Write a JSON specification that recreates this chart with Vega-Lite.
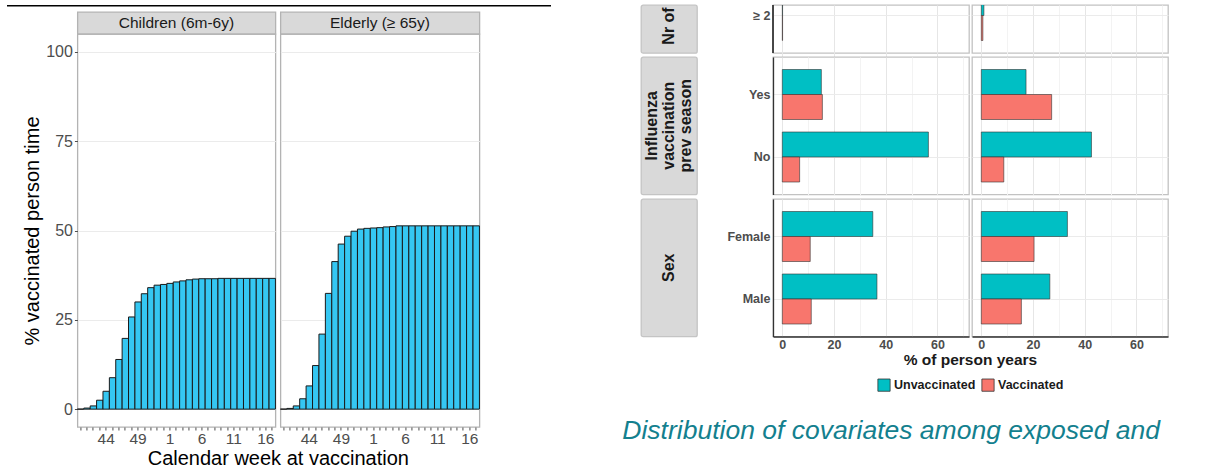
{
  "$schema": "https://vega.github.io/schema/vega-lite/v6.json",
  "background": "#ffffff",
  "padding": {"left": 7, "top": 3, "right": 5, "bottom": 0},
  "config": {
    "font": "Liberation Sans",
    "view": {"stroke": "#b3b3b3", "strokeWidth": 1.3},
    "axis": {"labelFont": "Liberation Sans", "titleFont": "Liberation Sans"},
    "title": {"font": "Liberation Sans"},
    "legend": {"labelFont": "Liberation Sans"}
  },
  "datasets": {
    "uptake": [
      {"group": "Children", "week": 40, "pct": 0},
      {"group": "Children", "week": 41, "pct": 0.3},
      {"group": "Children", "week": 42, "pct": 0.9},
      {"group": "Children", "week": 43, "pct": 2.5},
      {"group": "Children", "week": 44, "pct": 5.0},
      {"group": "Children", "week": 45, "pct": 8.8},
      {"group": "Children", "week": 46, "pct": 13.9},
      {"group": "Children", "week": 47, "pct": 19.8},
      {"group": "Children", "week": 48, "pct": 25.8},
      {"group": "Children", "week": 49, "pct": 30.0},
      {"group": "Children", "week": 50, "pct": 32.3},
      {"group": "Children", "week": 51, "pct": 34.0},
      {"group": "Children", "week": 52, "pct": 34.7},
      {"group": "Children", "week": 53, "pct": 34.9},
      {"group": "Children", "week": 1, "pct": 35.2},
      {"group": "Children", "week": 2, "pct": 35.6},
      {"group": "Children", "week": 3, "pct": 35.9},
      {"group": "Children", "week": 4, "pct": 36.2},
      {"group": "Children", "week": 5, "pct": 36.4},
      {"group": "Children", "week": 6, "pct": 36.5},
      {"group": "Children", "week": 7, "pct": 36.5},
      {"group": "Children", "week": 8, "pct": 36.5},
      {"group": "Children", "week": 9, "pct": 36.6},
      {"group": "Children", "week": 10, "pct": 36.6},
      {"group": "Children", "week": 11, "pct": 36.6},
      {"group": "Children", "week": 12, "pct": 36.6},
      {"group": "Children", "week": 13, "pct": 36.6},
      {"group": "Children", "week": 14, "pct": 36.6},
      {"group": "Children", "week": 15, "pct": 36.6},
      {"group": "Children", "week": 16, "pct": 36.6},
      {"group": "Children", "week": 17, "pct": 36.6},
      {"group": "Elderly", "week": 40, "pct": 0},
      {"group": "Elderly", "week": 41, "pct": 0.2},
      {"group": "Elderly", "week": 42, "pct": 0.9},
      {"group": "Elderly", "week": 43, "pct": 2.9},
      {"group": "Elderly", "week": 44, "pct": 6.5},
      {"group": "Elderly", "week": 45, "pct": 12.2},
      {"group": "Elderly", "week": 46, "pct": 21.0},
      {"group": "Elderly", "week": 47, "pct": 32.4},
      {"group": "Elderly", "week": 48, "pct": 41.3},
      {"group": "Elderly", "week": 49, "pct": 46.2},
      {"group": "Elderly", "week": 50, "pct": 48.4},
      {"group": "Elderly", "week": 51, "pct": 49.8},
      {"group": "Elderly", "week": 52, "pct": 50.4},
      {"group": "Elderly", "week": 53, "pct": 50.6},
      {"group": "Elderly", "week": 1, "pct": 50.7},
      {"group": "Elderly", "week": 2, "pct": 50.8},
      {"group": "Elderly", "week": 3, "pct": 51.0},
      {"group": "Elderly", "week": 4, "pct": 51.1},
      {"group": "Elderly", "week": 5, "pct": 51.3},
      {"group": "Elderly", "week": 6, "pct": 51.3},
      {"group": "Elderly", "week": 7, "pct": 51.3},
      {"group": "Elderly", "week": 8, "pct": 51.3},
      {"group": "Elderly", "week": 9, "pct": 51.3},
      {"group": "Elderly", "week": 10, "pct": 51.3},
      {"group": "Elderly", "week": 11, "pct": 51.3},
      {"group": "Elderly", "week": 12, "pct": 51.3},
      {"group": "Elderly", "week": 13, "pct": 51.3},
      {"group": "Elderly", "week": 14, "pct": 51.3},
      {"group": "Elderly", "week": 15, "pct": 51.3},
      {"group": "Elderly", "week": 16, "pct": 51.3},
      {"group": "Elderly", "week": 17, "pct": 51.3}
    ],
    "facets": [
      {"group": "Children", "label": "Children (6m-6y)"},
      {"group": "Elderly", "label": "Elderly (≥ 65y)"}
    ],
    "covariates": [
      {"key": "visits", "label": "Nr of"},
      {"key": "flu", "label": "Influenza\nvaccination\nprev season"},
      {"key": "sex", "label": "Sex"}
    ],
    "cov": [
      {"group": "Children", "key": "visits", "level": "≥ 2", "status": "Unvaccinated", "pct": 0.1},
      {"group": "Children", "key": "visits", "level": "≥ 2", "status": "Vaccinated", "pct": 0.1},
      {"group": "Children", "key": "flu", "level": "Yes", "status": "Unvaccinated", "pct": 15.1},
      {"group": "Children", "key": "flu", "level": "Yes", "status": "Vaccinated", "pct": 15.5},
      {"group": "Children", "key": "flu", "level": "No", "status": "Unvaccinated", "pct": 56.5},
      {"group": "Children", "key": "flu", "level": "No", "status": "Vaccinated", "pct": 6.7},
      {"group": "Children", "key": "sex", "level": "Female", "status": "Unvaccinated", "pct": 35.0},
      {"group": "Children", "key": "sex", "level": "Female", "status": "Vaccinated", "pct": 10.8},
      {"group": "Children", "key": "sex", "level": "Male", "status": "Unvaccinated", "pct": 36.6},
      {"group": "Children", "key": "sex", "level": "Male", "status": "Vaccinated", "pct": 11.2},
      {"group": "Elderly", "key": "visits", "level": "≥ 2", "status": "Unvaccinated", "pct": 1.0},
      {"group": "Elderly", "key": "visits", "level": "≥ 2", "status": "Vaccinated", "pct": 0.6},
      {"group": "Elderly", "key": "flu", "level": "Yes", "status": "Unvaccinated", "pct": 17.3},
      {"group": "Elderly", "key": "flu", "level": "Yes", "status": "Vaccinated", "pct": 27.2},
      {"group": "Elderly", "key": "flu", "level": "No", "status": "Unvaccinated", "pct": 42.6},
      {"group": "Elderly", "key": "flu", "level": "No", "status": "Vaccinated", "pct": 8.7},
      {"group": "Elderly", "key": "sex", "level": "Female", "status": "Unvaccinated", "pct": 33.3},
      {"group": "Elderly", "key": "sex", "level": "Female", "status": "Vaccinated", "pct": 20.4},
      {"group": "Elderly", "key": "sex", "level": "Male", "status": "Unvaccinated", "pct": 26.5},
      {"group": "Elderly", "key": "sex", "level": "Male", "status": "Vaccinated", "pct": 15.5}
    ]
  },
  "spacing": 71,
  "hconcat": [
    {
      "spacing": 4,
      "center": true,
      "vconcat": [
        {
          "width": 544,
          "height": 1.5,
          "view": {"fill": "#000000", "stroke": null},
          "data": {"values": []},
          "mark": "text"
        },
        {
          "columns": 2,
          "bounds": "flush",
          "spacing": {"row": 0, "column": 5},
          "title": {"text": "Calendar week at vaccination", "orient": "bottom", "anchor": "middle", "dx": 27, "offset": 2, "fontSize": 20, "fontWeight": "normal", "color": "#000000"},
          "concat": [
            {
              "width": 198,
              "height": 22,
              "view": {"fill": "#d9d9d9", "stroke": "#b3b3b3", "strokeWidth": 1.3},
              "data": {"name": "facets"},
              "transform": [{"filter": "datum.group === 'Children'"}],
              "mark": {"type": "text", "fontSize": 15.5, "color": "#1a1a1a", "baseline": "middle"},
              "encoding": {"text": {"field": "label"}}
            },
            {
              "width": 199,
              "height": 22,
              "view": {"fill": "#d9d9d9", "stroke": "#b3b3b3", "strokeWidth": 1.3},
              "data": {"name": "facets"},
              "transform": [{"filter": "datum.group === 'Elderly'"}],
              "mark": {"type": "text", "fontSize": 15.5, "color": "#1a1a1a", "baseline": "middle"},
              "encoding": {"text": {"field": "label"}}
            },
            {
              "width": 198,
              "height": 393,
              "data": {"name": "uptake"},
              "transform": [{"filter": "datum.group === 'Children'"}],
              "mark": {"type": "bar", "fill": "#35c7f2", "stroke": "#1a1a1a", "strokeWidth": 1},
              "encoding": {
                "x": {
                  "field": "week", "type": "ordinal",
                  "sort": [40,41,42,43,44,45,46,47,48,49,50,51,52,53,1,2,3,4,5,6,7,8,9,10,11,12,13,14,15,16,17],
                  "scale": {"paddingInner": 0, "paddingOuter": 0},
                  "axis": {"title": null, "labelAngle": 0, "labelExpr": "indexof([44, 49, 1, 6, 11, 16], datum.value) >= 0 ? datum.label : ''", "labelOverlap": false, "labelFontSize": 15.5, "labelColor": "#4d4d4d", "labelPadding": 1, "tickSize": 3, "tickColor": "#4d4d4d", "domain": false, "grid": false}
                },
                "y": {
                  "field": "pct", "type": "quantitative",
                  "scale": {"domain": [-5, 105], "nice": false, "zero": false},
                  "axis": {"values": [0, 25, 50, 75, 100], "title": "% vaccinated person time", "titleFontSize": 20, "titleFontWeight": "normal", "titleColor": "#000000", "titlePadding": 3, "labelFontSize": 16, "labelColor": "#4d4d4d", "labelPadding": 2, "tickSize": 3, "tickColor": "#4d4d4d", "domain": false, "grid": true, "gridColor": "#ebebeb"}
                },
                "y2": {"datum": 0}
              }
            },
            {
              "width": 199,
              "height": 393,
              "data": {"name": "uptake"},
              "transform": [{"filter": "datum.group === 'Elderly'"}],
              "mark": {"type": "bar", "fill": "#35c7f2", "stroke": "#1a1a1a", "strokeWidth": 1},
              "encoding": {
                "x": {
                  "field": "week", "type": "ordinal",
                  "sort": [40,41,42,43,44,45,46,47,48,49,50,51,52,53,1,2,3,4,5,6,7,8,9,10,11,12,13,14,15,16,17],
                  "scale": {"paddingInner": 0, "paddingOuter": 0},
                  "axis": {"title": null, "labelAngle": 0, "labelExpr": "indexof([44, 49, 1, 6, 11, 16], datum.value) >= 0 ? datum.label : ''", "labelOverlap": false, "labelFontSize": 15.5, "labelColor": "#4d4d4d", "labelPadding": 1, "tickSize": 3, "tickColor": "#4d4d4d", "domain": false, "grid": false}
                },
                "y": {
                  "field": "pct", "type": "quantitative",
                  "scale": {"domain": [-5, 105], "nice": false, "zero": false},
                  "axis": {"values": [0, 25, 50, 75, 100], "title": null, "labels": false, "ticks": false, "domain": false, "grid": true, "gridColor": "#ebebeb"}
                },
                "y2": {"datum": 0}
              }
            }
          ]
        }
      ]
    },
    {
      "title": {"text": "Distribution of covariates among exposed and", "orient": "bottom", "anchor": "start", "dx": -18, "offset": 50, "fontSize": 26.5, "fontStyle": "italic", "fontWeight": "normal", "color": "#13808e"},
      "vconcat": [
        {
          "spacing": 28,
          "hconcat": [
            {
              "bounds": "flush",
              "spacing": 4,
              "vconcat": [
                {
                  "width": 56,
                  "height": 48,
                  "view": {"fill": "#d9d9d9", "stroke": "#c4c4c4", "strokeWidth": 1.3, "cornerRadius": 2},
                  "data": {"name": "covariates"},
                  "transform": [{"filter": "datum.key === 'visits'"}],
                  "mark": {"type": "text", "angle": 270, "align": "center", "baseline": "middle", "dx": 3, "fontSize": 16, "fontWeight": "bold", "color": "#1a1a1a"},
                  "encoding": {"text": {"field": "label"}}
                },
                {
                  "width": 56,
                  "height": 137.5,
                  "view": {"fill": "#d9d9d9", "stroke": "#c4c4c4", "strokeWidth": 1.3, "cornerRadius": 2},
                  "data": {"name": "covariates"},
                  "transform": [{"filter": "datum.key === 'flu'"}],
                  "mark": {"type": "text", "angle": 270, "align": "center", "baseline": "middle", "dy": -17, "lineBreak": "\n", "lineHeight": 17, "fontSize": 16, "fontWeight": "bold", "color": "#1a1a1a"},
                  "encoding": {"text": {"field": "label"}}
                },
                {
                  "width": 56,
                  "height": 137.5,
                  "view": {"fill": "#d9d9d9", "stroke": "#c4c4c4", "strokeWidth": 1.3, "cornerRadius": 2},
                  "data": {"name": "covariates"},
                  "transform": [{"filter": "datum.key === 'sex'"}],
                  "mark": {"type": "text", "angle": 270, "align": "center", "baseline": "middle", "fontSize": 16, "fontWeight": "bold", "color": "#1a1a1a"},
                  "encoding": {"text": {"field": "label"}}
                }
              ]
            },
            {
              "columns": 2,
              "bounds": "flush",
              "spacing": {"row": 4, "column": 3},
              "title": {"text": "% of person years", "orient": "bottom", "anchor": "middle", "dx": 23, "offset": 1, "fontSize": 15.5, "fontWeight": "bold", "color": "#1a1a1a"},
              "concat": [
                {
                  "width": 196,
                  "height": 48,
                  "view": {"stroke": "#c2c2c2", "strokeWidth": 1.3},
                  "data": {"name": "cov"},
                  "transform": [{"filter": "datum.group === 'Children' && datum.key === 'visits'"}],
                  "layer": [
                    {
                      "mark": {"type": "bar", "stroke": "#333333", "strokeWidth": 0.6, "clip": true},
                      "encoding": {
                        "y": {"field": "level", "type": "nominal", "scale": {"paddingInner": 0, "paddingOuter": 0.1, "range": [-27, 48]}, "axis": {"title": null, "labelFontSize": 12.5, "labelFontWeight": "bold", "labelColor": "#4d4d4d", "labelPadding": 3, "ticks": false, "domain": false, "grid": true, "gridColor": "#ebebeb", "bandPosition": 0.5}},
                        "yOffset": {"field": "status", "type": "nominal", "sort": ["Unvaccinated", "Vaccinated"], "scale": {"paddingInner": 0, "paddingOuter": 0.25}},
                        "x": {"field": "pct", "type": "quantitative", "scale": {"domain": [-3.6, 72.2], "nice": false, "zero": false}, "axis": {"title": null, "values": [0, 10, 20, 30, 40, 50, 60, 70], "labels": false, "ticks": false, "domain": false, "grid": true, "gridColor": {"condition": {"test": "datum.value % 20 === 0", "value": "#e6e6e6"}, "value": "#f3f3f3"}}},
                        "x2": {"datum": 0},
                        "color": {"field": "status", "type": "nominal", "scale": {"domain": ["Unvaccinated", "Vaccinated"], "range": ["#00BFC4", "#F8766D"]}, "legend": {"orient": "none", "legendX": 870, "legendY": 373, "direction": "horizontal", "title": null, "padding": 0, "symbolType": "square", "symbolSize": 150, "symbolStrokeColor": "#333333", "symbolStrokeWidth": 0.8, "labelFontSize": 12.5, "labelFontWeight": "bold", "labelColor": "#1a1a1a", "labelOffset": 3, "columnPadding": 4}}
                      }
                    },
                    {
                      "mark": {"type": "rule", "color": "#333333", "strokeWidth": 1.3},
                      "encoding": {"x": {"datum": -3.6}}
                    }
                  ]
                },
                {
                  "width": 196,
                  "height": 48,
                  "view": {"stroke": "#c2c2c2", "strokeWidth": 1.3},
                  "data": {"name": "cov"},
                  "transform": [{"filter": "datum.group === 'Elderly' && datum.key === 'visits'"}],
                  "mark": {"type": "bar", "stroke": "#333333", "strokeWidth": 0.6, "clip": true},
                  "encoding": {
                    "y": {"field": "level", "type": "nominal", "scale": {"paddingInner": 0, "paddingOuter": 0.1, "range": [-27, 48]}, "axis": {"title": null, "labels": false, "ticks": false, "domain": false, "grid": true, "gridColor": "#ebebeb", "bandPosition": 0.5}},
                    "yOffset": {"field": "status", "type": "nominal", "sort": ["Unvaccinated", "Vaccinated"], "scale": {"paddingInner": 0, "paddingOuter": 0.25}},
                    "x": {"field": "pct", "type": "quantitative", "scale": {"domain": [-3.6, 72.2], "nice": false, "zero": false}, "axis": {"title": null, "values": [0, 10, 20, 30, 40, 50, 60, 70], "labels": false, "ticks": false, "domain": false, "grid": true, "gridColor": {"condition": {"test": "datum.value % 20 === 0", "value": "#e6e6e6"}, "value": "#f3f3f3"}}},
                    "x2": {"datum": 0},
                    "color": {"field": "status", "type": "nominal", "scale": {"domain": ["Unvaccinated", "Vaccinated"], "range": ["#00BFC4", "#F8766D"]}, "legend": {"orient": "none", "legendX": 870, "legendY": 373, "direction": "horizontal", "title": null, "padding": 0, "symbolType": "square", "symbolSize": 150, "symbolStrokeColor": "#333333", "symbolStrokeWidth": 0.8, "labelFontSize": 12.5, "labelFontWeight": "bold", "labelColor": "#1a1a1a", "labelOffset": 3, "columnPadding": 4}}
                  }
                },
                {
                  "width": 196,
                  "height": 137.5,
                  "view": {"stroke": "#c2c2c2", "strokeWidth": 1.3},
                  "data": {"name": "cov"},
                  "transform": [{"filter": "datum.group === 'Children' && datum.key === 'flu'"}],
                  "mark": {"type": "bar", "stroke": "#333333", "strokeWidth": 0.6, "clip": true},
                  "encoding": {
                    "y": {"field": "level", "type": "nominal", "sort": ["Yes", "No"], "scale": {"paddingInner": 0, "paddingOuter": 0.1}, "axis": {"title": null, "labelFontSize": 12.5, "labelFontWeight": "bold", "labelColor": "#4d4d4d", "labelPadding": 3, "ticks": false, "domain": true, "domainColor": "#333333", "domainWidth": 1.3, "grid": true, "gridColor": "#ebebeb", "bandPosition": 0.5}},
                    "yOffset": {"field": "status", "type": "nominal", "sort": ["Unvaccinated", "Vaccinated"], "scale": {"paddingInner": 0, "paddingOuter": 0.25}},
                    "x": {"field": "pct", "type": "quantitative", "scale": {"domain": [-3.6, 72.2], "nice": false, "zero": false}, "axis": {"title": null, "values": [0, 10, 20, 30, 40, 50, 60, 70], "labels": false, "ticks": false, "domain": false, "grid": true, "gridColor": {"condition": {"test": "datum.value % 20 === 0", "value": "#e6e6e6"}, "value": "#f3f3f3"}}},
                    "x2": {"datum": 0},
                    "color": {"field": "status", "type": "nominal", "scale": {"domain": ["Unvaccinated", "Vaccinated"], "range": ["#00BFC4", "#F8766D"]}, "legend": {"orient": "none", "legendX": 870, "legendY": 373, "direction": "horizontal", "title": null, "padding": 0, "symbolType": "square", "symbolSize": 150, "symbolStrokeColor": "#333333", "symbolStrokeWidth": 0.8, "labelFontSize": 12.5, "labelFontWeight": "bold", "labelColor": "#1a1a1a", "labelOffset": 3, "columnPadding": 4}}
                  }
                },
                {
                  "width": 196,
                  "height": 137.5,
                  "view": {"stroke": "#c2c2c2", "strokeWidth": 1.3},
                  "data": {"name": "cov"},
                  "transform": [{"filter": "datum.group === 'Elderly' && datum.key === 'flu'"}],
                  "mark": {"type": "bar", "stroke": "#333333", "strokeWidth": 0.6, "clip": true},
                  "encoding": {
                    "y": {"field": "level", "type": "nominal", "sort": ["Yes", "No"], "scale": {"paddingInner": 0, "paddingOuter": 0.1}, "axis": {"title": null, "labels": false, "ticks": false, "domain": false, "grid": true, "gridColor": "#ebebeb", "bandPosition": 0.5}},
                    "yOffset": {"field": "status", "type": "nominal", "sort": ["Unvaccinated", "Vaccinated"], "scale": {"paddingInner": 0, "paddingOuter": 0.25}},
                    "x": {"field": "pct", "type": "quantitative", "scale": {"domain": [-3.6, 72.2], "nice": false, "zero": false}, "axis": {"title": null, "values": [0, 10, 20, 30, 40, 50, 60, 70], "labels": false, "ticks": false, "domain": false, "grid": true, "gridColor": {"condition": {"test": "datum.value % 20 === 0", "value": "#e6e6e6"}, "value": "#f3f3f3"}}},
                    "x2": {"datum": 0},
                    "color": {"field": "status", "type": "nominal", "scale": {"domain": ["Unvaccinated", "Vaccinated"], "range": ["#00BFC4", "#F8766D"]}, "legend": {"orient": "none", "legendX": 870, "legendY": 373, "direction": "horizontal", "title": null, "padding": 0, "symbolType": "square", "symbolSize": 150, "symbolStrokeColor": "#333333", "symbolStrokeWidth": 0.8, "labelFontSize": 12.5, "labelFontWeight": "bold", "labelColor": "#1a1a1a", "labelOffset": 3, "columnPadding": 4}}
                  }
                },
                {
                  "width": 196,
                  "height": 137.5,
                  "view": {"stroke": "#c2c2c2", "strokeWidth": 1.3},
                  "data": {"name": "cov"},
                  "transform": [{"filter": "datum.group === 'Children' && datum.key === 'sex'"}],
                  "mark": {"type": "bar", "stroke": "#333333", "strokeWidth": 0.6, "clip": true},
                  "encoding": {
                    "y": {"field": "level", "type": "nominal", "sort": ["Female", "Male"], "scale": {"paddingInner": 0, "paddingOuter": 0.1}, "axis": {"title": null, "labelFontSize": 12.5, "labelFontWeight": "bold", "labelColor": "#4d4d4d", "labelPadding": 3, "ticks": false, "domain": true, "domainColor": "#333333", "domainWidth": 1.3, "grid": true, "gridColor": "#ebebeb", "bandPosition": 0.5}},
                    "yOffset": {"field": "status", "type": "nominal", "sort": ["Unvaccinated", "Vaccinated"], "scale": {"paddingInner": 0, "paddingOuter": 0.25}},
                    "x": {"field": "pct", "type": "quantitative", "scale": {"domain": [-3.6, 72.2], "nice": false, "zero": false}, "axis": {"title": null, "values": [0, 10, 20, 30, 40, 50, 60, 70], "labelExpr": "datum.value % 20 === 0 ? datum.label : ''", "labelFontSize": 12.5, "labelFontWeight": "bold", "labelColor": "#4d4d4d", "labelPadding": 2, "ticks": false, "domain": true, "domainColor": "#333333", "domainWidth": 1.3, "grid": true, "gridColor": {"condition": {"test": "datum.value % 20 === 0", "value": "#e6e6e6"}, "value": "#f3f3f3"}}},
                    "x2": {"datum": 0},
                    "color": {"field": "status", "type": "nominal", "scale": {"domain": ["Unvaccinated", "Vaccinated"], "range": ["#00BFC4", "#F8766D"]}, "legend": {"orient": "none", "legendX": 870, "legendY": 373, "direction": "horizontal", "title": null, "padding": 0, "symbolType": "square", "symbolSize": 150, "symbolStrokeColor": "#333333", "symbolStrokeWidth": 0.8, "labelFontSize": 12.5, "labelFontWeight": "bold", "labelColor": "#1a1a1a", "labelOffset": 3, "columnPadding": 4}}
                  }
                },
                {
                  "width": 196,
                  "height": 137.5,
                  "view": {"stroke": "#c2c2c2", "strokeWidth": 1.3},
                  "data": {"name": "cov"},
                  "transform": [{"filter": "datum.group === 'Elderly' && datum.key === 'sex'"}],
                  "mark": {"type": "bar", "stroke": "#333333", "strokeWidth": 0.6, "clip": true},
                  "encoding": {
                    "y": {"field": "level", "type": "nominal", "sort": ["Female", "Male"], "scale": {"paddingInner": 0, "paddingOuter": 0.1}, "axis": {"title": null, "labels": false, "ticks": false, "domain": false, "grid": true, "gridColor": "#ebebeb", "bandPosition": 0.5}},
                    "yOffset": {"field": "status", "type": "nominal", "sort": ["Unvaccinated", "Vaccinated"], "scale": {"paddingInner": 0, "paddingOuter": 0.25}},
                    "x": {"field": "pct", "type": "quantitative", "scale": {"domain": [-3.6, 72.2], "nice": false, "zero": false}, "axis": {"title": null, "values": [0, 10, 20, 30, 40, 50, 60, 70], "labelExpr": "datum.value % 20 === 0 ? datum.label : ''", "labelFontSize": 12.5, "labelFontWeight": "bold", "labelColor": "#4d4d4d", "labelPadding": 2, "ticks": false, "domain": true, "domainColor": "#333333", "domainWidth": 1.3, "grid": true, "gridColor": {"condition": {"test": "datum.value % 20 === 0", "value": "#e6e6e6"}, "value": "#f3f3f3"}}},
                    "x2": {"datum": 0},
                    "color": {"field": "status", "type": "nominal", "scale": {"domain": ["Unvaccinated", "Vaccinated"], "range": ["#00BFC4", "#F8766D"]}, "legend": {"orient": "none", "legendX": 870, "legendY": 373, "direction": "horizontal", "title": null, "padding": 0, "symbolType": "square", "symbolSize": 150, "symbolStrokeColor": "#333333", "symbolStrokeWidth": 0.8, "labelFontSize": 12.5, "labelFontWeight": "bold", "labelColor": "#1a1a1a", "labelOffset": 3, "columnPadding": 4}}
                  }
                }
              ]
            }
          ]
        }
      ]
    }
  ]
}
